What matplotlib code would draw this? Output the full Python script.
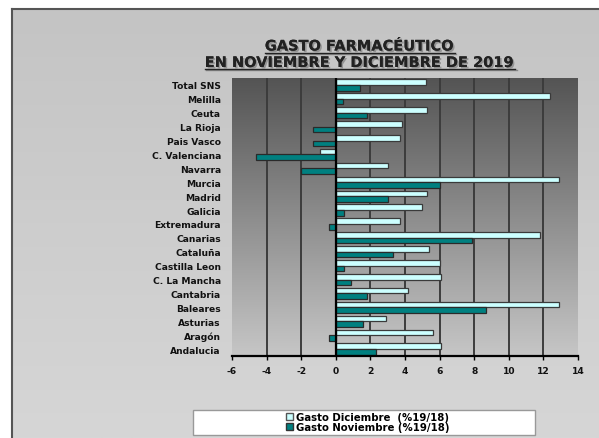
import numpy as np
import matplotlib
matplotlib.use("Agg")
import matplotlib.pyplot as plt
from matplotlib.patches import Rectangle, Patch
from matplotlib.lines import Line2D
import matplotlib.patheffects as pe

categories = ["Total SNS", "Melilla", "Ceuta", "La Rioja", "Pais Vasco", "C. Valenciana",
              "Navarra", "Murcia", "Madrid", "Galicia", "Extremadura", "Canarias",
              "Cataluña", "Castilla Leon", "C. La Mancha", "Cantabria", "Baleares",
              "Asturias", "Aragón", "Andalucia"]
diciembre = [5.2, 12.4, 5.3, 3.8, 3.7, -0.9, 3.0, 12.9, 5.3, 5.0, 3.7, 11.8,
             5.4, 6.0, 6.1, 4.2, 12.9, 2.9, 5.6, 6.1]
noviembre = [1.4, 0.4, 1.8, -1.3, -1.3, -4.6, -2.0, 6.0, 3.0, 0.5, -0.4, 7.9,
             3.3, 0.5, 0.9, 1.8, 8.7, 1.6, -0.4, 2.3]
xticks = list(range(-6, 15, 2))
title1 = "GASTO FARMACÉUTICO"
title2 = "EN NOVIEMBRE Y DICIEMBRE DE 2019"
legend_labels = ["Gasto Diciembre  (%19/18)", "Gasto Noviembre (%19/18)"]

W, H = 599, 439
fig = plt.figure(figsize=(W / 100, H / 100), dpi=100)
fig.patch.set_facecolor("white")
plt.rcParams['font.family'] = ['DejaVu Sans']

# background panel with gradient
bg = fig.add_axes([12 / W, 0, 1 - 12 / W, 1 - 10 / H], zorder=-10)
grad = np.linspace(0, 1, 256).reshape(-1, 1)
bg.imshow(grad, aspect="auto", cmap=matplotlib.colors.LinearSegmentedColormap.from_list(
    "bgc", ["#c4c4c4", "#d6d6d6"]), extent=[0, 1, 0, 1], origin="upper")
bg.set_xlim(0, 1); bg.set_ylim(0, 1)
bg.set_xticks([]); bg.set_yticks([])
for s in ["right", "bottom"]:
    bg.spines[s].set_visible(False)
for s in ["left", "top"]:
    bg.spines[s].set_color("#555555")
    bg.spines[s].set_linewidth(1.5)

ax = fig.add_axes([232 / W, 1 - 357 / H, (578 - 232) / W, (357 - 79) / H])
n = len(categories)
ypos = np.arange(n)[::-1]
ax.set_xlim(-6, 14)
ax.set_ylim(-0.5, n - 0.5)

# plot area gradient
ax.imshow(grad, aspect="auto", cmap=matplotlib.colors.LinearSegmentedColormap.from_list(
    "pac", ["#545454", "#c6c6c6"]), extent=[-6, 14, -0.5, n - 0.5], origin="upper", zorder=0)
for xv in xticks[1:-1]:
    ax.axvline(xv, color="#3c3c3c", lw=1.4, zorder=1)

bh = 0.4
ax.barh(ypos + bh / 2, diciembre, height=bh, color="#ccffff", edgecolor="#3a3a3a",
        lw=0.9, zorder=3, label=legend_labels[0])
ax.barh(ypos - bh / 2, noviembre, height=bh, color="#008080", edgecolor="#2a2a2a",
        lw=0.9, zorder=3, label=legend_labels[1])
ax.axvline(0, color="black", lw=1.6, zorder=4)

ax.set_yticks(ypos)
ax.set_yticklabels(categories, fontsize=6.6, fontweight="bold", color="#111111")
ax.set_xticks(xticks)
ax.set_xticklabels([str(v) for v in xticks], fontsize=6.6, fontweight="bold", color="#111111")
ax.tick_params(axis="y", length=0, pad=8)
ax.tick_params(axis="x", length=3, width=1, color="black", pad=4)
for s in ["left", "right", "top"]:
    ax.spines[s].set_visible(False)
ax.spines["bottom"].set_color("black")
ax.spines["bottom"].set_linewidth(1.6)
ax.spines["bottom"].set_zorder(5)

# title
shadow = [pe.withSimplePatchShadow(offset=(1.2, -1.2), shadow_rgbFace="#888888", alpha=0.8), pe.Normal()]
cx = 360 / W
t1 = fig.text(cx, 1 - 47 / H, title1, ha="center", va="center", fontsize=10.5,
              fontweight="bold", color="#222222", path_effects=shadow)
t2 = fig.text(cx, 1 - 63.5 / H, title2, ha="center", va="center", fontsize=10.5,
              fontweight="bold", color="#222222", path_effects=shadow)
fig.canvas.draw()
r = fig.canvas.get_renderer()
for t in (t1, t2):
    bb = t.get_window_extent(r)
    yline = bb.y0 + 1.0
    for off, col in ((1.2, "#888888"), (0, "#222222")):
        fig.add_artist(Line2D([(bb.x0 + off) / W, (bb.x1 + off) / W],
                              [(yline - off) / H, (yline - off) / H],
                              color=col, lw=1.0, transform=fig.transFigure))

# legend box
fig.add_artist(Rectangle((193 / W, 1 - 436 / H), (535 - 193) / W, (436 - 411) / H,
                         transform=fig.transFigure, facecolor="white", edgecolor="#999999",
                         lw=1.0, zorder=5))
handles = [Patch(facecolor="#ccffff", edgecolor="#555555"),
           Patch(facecolor="#008080", edgecolor="#333333")]
leg = fig.legend(handles, legend_labels, loc="center", bbox_to_anchor=(368 / W, 1 - 423 / H),
                 frameon=False, prop={"weight": "bold", "size": 7.3},
                 handlelength=0.7, handleheight=0.7, handletextpad=0.3, labelspacing=0.0,
                 borderpad=0)
leg.set_zorder(6)

fig.savefig("out.png", dpi=100)
